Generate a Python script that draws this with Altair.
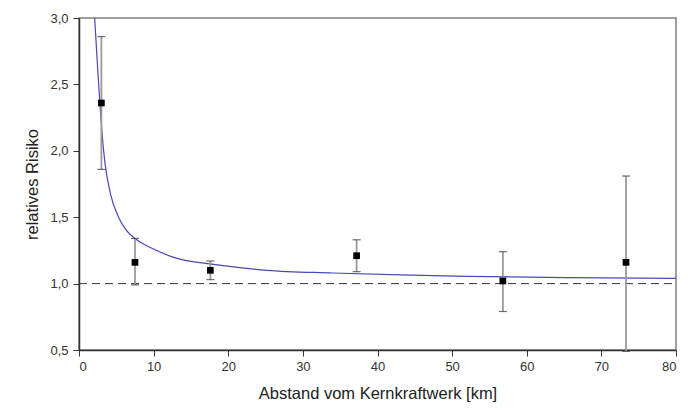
import altair as alt
import pandas as pd

# Measured relative risk by distance class
dist = [3.0, 7.5, 17.6, 37.2, 56.8, 73.3]
risk = [2.36, 1.16, 1.10, 1.21, 1.02, 1.16]
ci_low = [1.86, 0.99, 1.03, 1.09, 0.79, 0.49]
ci_high = [2.86, 1.34, 1.17, 1.33, 1.24, 1.81]

# Fitted model curve
fit_x = [2.1, 2.5, 2.8, 3.1, 3.5, 4.2, 5.3, 6.3, 7.5, 8.9, 10.6, 12.3, 14.2, 16.2, 19.6,
         25.2, 34.0, 43.0, 52.0, 65.4, 80.0]
fit_y = [3.00, 2.62, 2.36, 2.12, 1.90, 1.68, 1.50, 1.405, 1.34, 1.29, 1.245, 1.205, 1.175, 1.158, 1.133,
         1.10, 1.08, 1.065, 1.055, 1.045, 1.04]

x_ticks = [0, 10, 20, 30, 40, 50, 60, 70, 80]
y_ticks = [0.5, 1.0, 1.5, 2.0, 2.5, 3.0]

pts = pd.DataFrame({"d": dist, "r": risk, "lo": ci_low, "hi": ci_high})
fit = pd.DataFrame({"d": fit_x, "r": fit_y})
ref = pd.DataFrame({"r": [1.0]})

xs = alt.Scale(domain=[0, 80], nice=False, zero=False)
ys = alt.Scale(domain=[0.5, 3.0], nice=False, zero=False)

x_axis = alt.Axis(values=x_ticks, title="Abstand vom Kernkraftwerk [km]", grid=False)
y_axis = alt.Axis(values=y_ticks, title="relatives Risiko", grid=False,
                  labelExpr="replace(format(datum.value, '.1f'), '.', ',')")

baseline = alt.Chart(ref).mark_rule(color="#333", strokeDash=[8, 5], strokeWidth=1).encode(
    y=alt.Y("r:Q", scale=ys, axis=y_axis),
    x=alt.value(0), x2=alt.value(597)
)

curve = alt.Chart(fit).mark_line(color="#4848b8", strokeWidth=1.2, interpolate="monotone").encode(
    x=alt.X("d:Q", scale=xs, axis=x_axis),
    y=alt.Y("r:Q", scale=ys)
)

bars = alt.Chart(pts).mark_rule(color="#9a9a9a", strokeWidth=1.8).encode(
    x=alt.X("d:Q", scale=xs),
    y=alt.Y("lo:Q", scale=ys),
    y2="hi:Q"
)

cap_hi = alt.Chart(pts).mark_tick(color="#333", orient="horizontal", size=8, thickness=1.2).encode(
    x=alt.X("d:Q", scale=xs), y=alt.Y("hi:Q", scale=ys)
)
cap_lo = alt.Chart(pts).mark_tick(color="#333", orient="horizontal", size=8, thickness=1.2).encode(
    x=alt.X("d:Q", scale=xs), y=alt.Y("lo:Q", scale=ys)
)

squares = alt.Chart(pts).mark_square(color="black", size=45, opacity=1).encode(
    x=alt.X("d:Q", scale=xs), y=alt.Y("r:Q", scale=ys)
)

chart = alt.layer(baseline, curve, bars, cap_hi, cap_lo, squares).properties(
    width=597, height=332,
    autosize=alt.AutoSizeParams(type="none"),
    padding={"left": 79, "top": 18, "right": 19, "bottom": 62},
    background="white"
).configure_view(
    stroke="#808080", strokeWidth=1.5
).configure_axis(
    domainColor="#333", domainWidth=1.5, tickColor="#333", tickSize=6,
    labelFont="Liberation Sans", labelFontSize=13, labelColor="#333",
    titleFont="Liberation Sans", titleFontSize=16.5, titleFontWeight="normal", titleColor="#222"
).configure_axisX(labelPadding=4, titlePadding=12).configure_axisY(labelPadding=5, titlePadding=9)

chart.save("out.html", embed_options={"renderer": "svg", "actions": False})
